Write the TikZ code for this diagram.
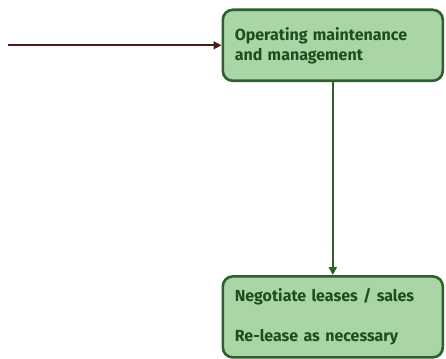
\documentclass[tikz,border=0pt]{standalone}
\usepackage{fontspec}
\setmainfont{Fira Sans}
\usetikzlibrary{arrows.meta, positioning}
\definecolor{boxfill}{HTML}{A9D5A7}
\definecolor{boxline}{HTML}{2F5F2E}
\definecolor{boxtext}{HTML}{1F4D1E}
\definecolor{inline}{HTML}{4A1C1C}
\tikzset{
  greenbox/.style={rectangle, rounded corners=10pt, draw=boxline, line width=2.6pt, fill=boxfill, text=boxtext, font=\fontsize{16}{20}\selectfont\bfseries, align=left, text width=196pt, inner xsep=12pt},
  flow/.style={line width=1.6pt, -{Triangle[length=8pt,width=8pt]}}
}
\begin{document}
\begin{tikzpicture}[x=1pt, y=1pt]
    \useasboundingbox (0,0) rectangle (446,-358);
    \node (ops) [greenbox, minimum height=71pt, anchor=north west] at (221.5,-8.5) {Operating maintenance\\and management};%upper box
    \node (lease) [greenbox, minimum height=81pt, below=193pt of ops] {Negotiate leases / sales\\[20pt]Re-lease as necessary};%lower box
    \coordinate (start) at (ops.west -| 8,0);%free end of incoming line
    \draw[flow, draw=inline, fill=inline] (start) -- (ops.west);%incoming arrow
    \draw[flow, draw=boxline, fill=boxline] (ops.south) -- (lease.north);%down arrow
\end{tikzpicture}
\end{document}
